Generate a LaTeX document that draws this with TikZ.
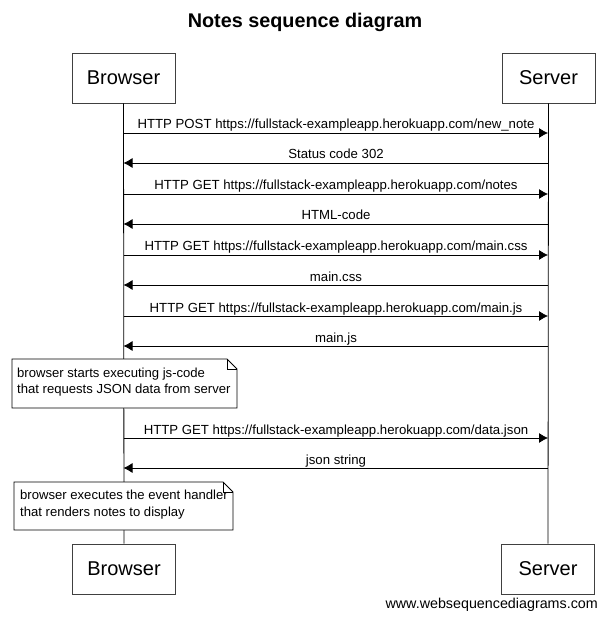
\documentclass[tikz,border=0pt]{standalone}
\usepackage{fontspec}
\setmainfont{Liberation Sans}
\begin{document}
\begin{tikzpicture}[x=1pt,y=-1pt,
  actor/.style={draw=black!75,line width=0.8pt,fill=white,minimum width=103pt,minimum height=50pt,inner sep=0pt,font=\fontsize{20}{24}\selectfont},
  actorS/.style={actor,minimum width=93pt},
  life/.style={line width=0.8pt},
  msg/.style={line width=0.8pt,-{Latex[length=9pt,width=10pt]}},
  lbl/.style={font=\fontsize{13.2}{15}\selectfont,inner sep=0pt,anchor=base},
  notetxt/.style={font=\fontsize{13.1}{16.5}\selectfont,align=left,anchor=north west,inner sep=0pt}
]
\usetikzlibrary{arrows.meta}
\useasboundingbox (0,0) rectangle (606,617);
\fill[white] (0,0) rectangle (606,617);
\node[font=\bfseries\fontsize{19.8}{23}\selectfont] (title) at (305,22) {Notes sequence diagram};
\node[actor] (bt) at (123.5,78) {Browser};
\node[actorS] (st) at (548.5,78) {Server};
\node[actor] (bb) at (124,569) {Browser};
\node[actorS] (sb) at (548,569) {Server};
\draw[life] (bt.south) -- (bb.north);
\draw[life] (st.south) -- (sb.north);
% message coordinates
\foreach \n/\y in {1/133,2/163,3/194,4/224,5/255,6/285,7/316,8/346,9/438,10/468}{
  \coordinate (b\n) at (123.5,\y);
  \coordinate (s\n) at (548,\y);
}
\draw[msg] (b1) -- (s1);
\node[lbl] (l1) at (336,129) {HTTP POST https://fullstack-exampleapp.herokuapp.com/new\_note};
\draw[msg] (s2) -- (b2);
\node[lbl] (l2) at (336,159) {Status code 302};
\draw[msg] (b3) -- (s3);
\node[lbl] (l3) at (336,190) {HTTP GET https://fullstack-exampleapp.herokuapp.com/notes};
\draw[msg] (s4) -- (b4);
\node[lbl] (l4) at (336,220) {HTML-code};
\draw[msg] (b5) -- (s5);
\node[lbl] (l5) at (336,251) {HTTP GET https://fullstack-exampleapp.herokuapp.com/main.css};
\draw[msg] (s6) -- (b6);
\node[lbl] (l6) at (336,281) {main.css};
\draw[msg] (b7) -- (s7);
\node[lbl] (l7) at (336,312) {HTTP GET https://fullstack-exampleapp.herokuapp.com/main.js};
\draw[msg] (s8) -- (b8);
\node[lbl] (l8) at (336,342) {main.js};
\draw[msg] (b9) -- (s9);
\node[lbl] (l9) at (336,434) {HTTP GET https://fullstack-exampleapp.herokuapp.com/data.json};
\draw[msg] (s10) -- (b10);
\node[lbl] (l10) at (336,464) {json string};
% notes
\draw[fill=white,line width=0.8pt] (12,359) -- (227,359) -- (237,369) -- (237,408) -- (12,408) -- cycle;
\draw[line width=0.6pt] (227,359) -- (227,369) -- (237,369);
\node[notetxt] (n1) at (17,367.5) {browser starts executing js-code\\that requests JSON data from server};
\draw[fill=white,line width=0.8pt] (14,482) -- (223,482) -- (233,492) -- (233,530) -- (14,530) -- cycle;
\draw[line width=0.6pt] (223,482) -- (223,492) -- (233,492);
\node[notetxt] (n2) at (20,490) {browser executes the event handler\\that renders notes to display};
\node[font=\fontsize{14.3}{17}\selectfont,anchor=base east,inner sep=0pt] (wm) at (598,608) {www.websequencediagrams.com};
\end{tikzpicture}
\end{document}
